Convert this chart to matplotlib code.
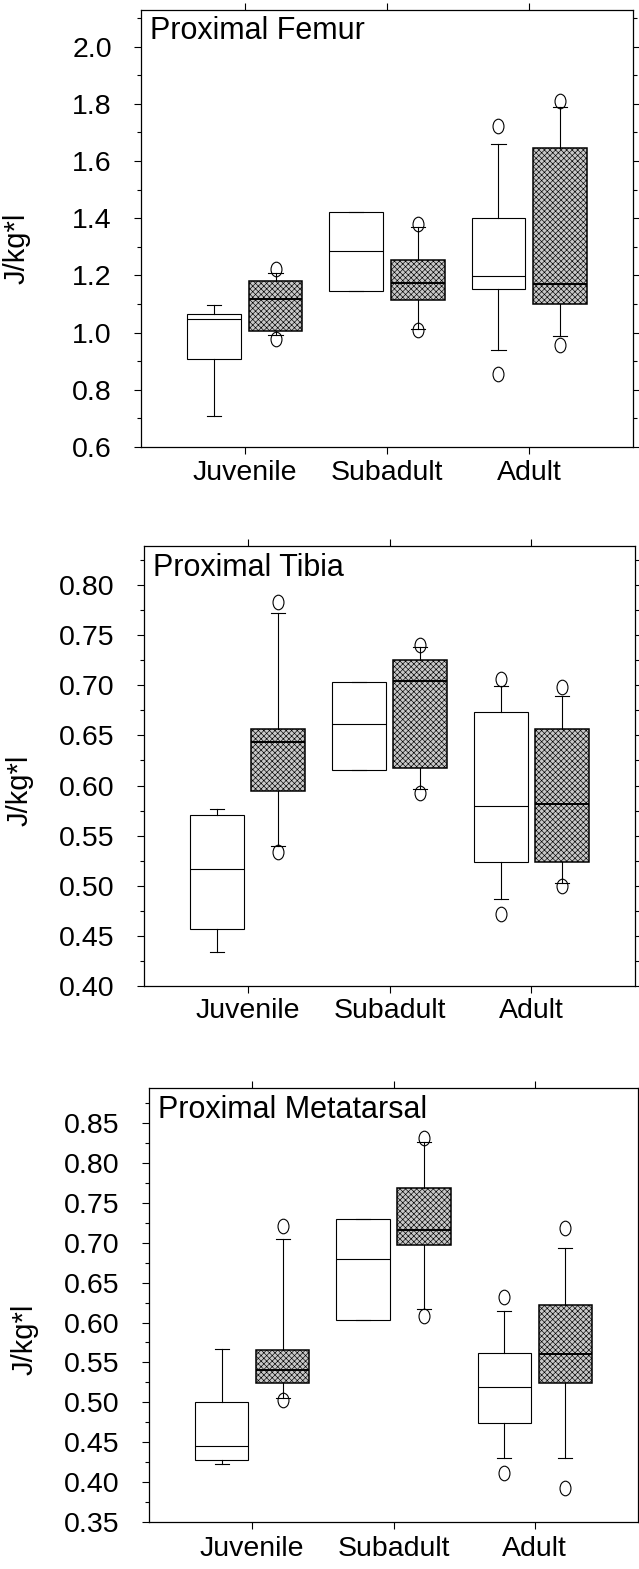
import numpy as np
import matplotlib
matplotlib.use("Agg")
import matplotlib.pyplot as plt
from matplotlib.path import Path
import matplotlib.transforms as mtransforms
from matplotlib.ticker import MultipleLocator, FormatStrFormatter

plt.rcParams['font.family'] = ['Liberation Sans', 'DejaVu Sans']
plt.rcParams['hatch.linewidth'] = 0.45

groups = ["Juvenile", "Subadult", "Adult"]

# Proximal Femur
femur_w_lo = [0.708, 1.145, 0.938]
femur_w_q1 = [0.909, 1.145, 1.151]
femur_w_med = [1.046, 1.287, 1.197]
femur_w_q3 = [1.066, 1.421, 1.401]
femur_w_hi = [1.095, 1.421, 1.658]
femur_w_out = [[], [], [1.724, 0.856]]
femur_g_lo = [0.990, 1.011, 0.988]
femur_g_q1 = [1.005, 1.115, 1.099]
femur_g_med = [1.118, 1.174, 1.171]
femur_g_q3 = [1.182, 1.255, 1.645]
femur_g_hi = [1.209, 1.369, 1.788]
femur_g_out = [[1.223, 0.978], [1.380, 1.008], [1.809, 0.955]]

# Proximal Tibia
tibia_w_lo = [0.434, 0.616, 0.487]
tibia_w_q1 = [0.457, 0.616, 0.524]
tibia_w_med = [0.517, 0.661, 0.580]
tibia_w_q3 = [0.571, 0.703, 0.673]
tibia_w_hi = [0.577, 0.703, 0.699]
tibia_w_out = [[], [], [0.706, 0.472]]
tibia_g_lo = [0.540, 0.597, 0.503]
tibia_g_q1 = [0.595, 0.618, 0.524]
tibia_g_med = [0.643, 0.704, 0.582]
tibia_g_q3 = [0.656, 0.725, 0.656]
tibia_g_hi = [0.772, 0.738, 0.689]
tibia_g_out = [[0.783, 0.534], [0.740, 0.593], [0.698, 0.500]]

# Proximal Metatarsal
meta_w_lo = [0.423, 0.603, 0.430]
meta_w_q1 = [0.428, 0.603, 0.474]
meta_w_med = [0.445, 0.680, 0.519]
meta_w_q3 = [0.500, 0.730, 0.562]
meta_w_hi = [0.567, 0.730, 0.614]
meta_w_out = [[], [], [0.632, 0.411]]
meta_g_lo = [0.506, 0.617, 0.430]
meta_g_q1 = [0.524, 0.697, 0.524]
meta_g_med = [0.541, 0.716, 0.561]
meta_g_q3 = [0.566, 0.769, 0.622]
meta_g_hi = [0.705, 0.826, 0.694]
meta_g_out = [[0.721, 0.503], [0.831, 0.608], [0.718, 0.392]]

W, H = 639, 1569

# outliers are drawn as upright open ellipses
ell = Path.unit_circle().transformed(mtransforms.Affine2D().scale(0.75, 1.0))


def make_stats(lo, q1, med, q3, hi, out):
    return [dict(whislo=lo[i], q1=q1[i], med=med[i], q3=q3[i], whishi=hi[i],
                 fliers=out[i]) for i in range(len(med))]


def draw_panel(box_px, title, white, gray, ylim, major, minor, fmt, xpad, ylab_y):
    l, r, t, b = box_px
    ax = fig.add_axes([l / W, 1 - b / H, (r - l) / W, (b - t) / H])
    cats = np.arange(1, len(groups) + 1)
    common = dict(widths=0.378, patch_artist=True, capwidths=0.1,
                  whiskerprops=dict(color='black', linewidth=0.8),
                  capprops=dict(color='black', linewidth=0.8),
                  flierprops=dict(marker=ell, markersize=10.5, markerfacecolor='none',
                                  markeredgecolor='black', markeredgewidth=0.8))
    ax.bxp(make_stats(*white), positions=cats - 0.216,
           boxprops=dict(facecolor='white', edgecolor='black', linewidth=0.8),
           medianprops=dict(color='black', linewidth=0.8), **common)
    ax.bxp(make_stats(*gray), positions=cats + 0.216,
           boxprops=dict(facecolor='#c8c8c8', edgecolor='black', linewidth=1.1, hatch='xxxxxx'),
           medianprops=dict(color='black', linewidth=1.4), **common)
    ax.set_xlim(0.27, 3.73)
    ax.set_ylim(*ylim)
    ax.set_xticks(cats)
    ax.set_xticklabels(groups, fontsize=20.5)
    ax.yaxis.set_major_locator(MultipleLocator(major))
    ax.yaxis.set_minor_locator(MultipleLocator(minor))
    ax.yaxis.set_major_formatter(FormatStrFormatter(fmt))
    ax.tick_params(axis='both', which='major', direction='out', length=5, width=0.8,
                   top=True, right=True, labelsize=20.5)
    ax.tick_params(axis='y', which='minor', direction='out', length=3, width=0.8, right=True)
    ax.tick_params(axis='y', which='major', pad=16)
    ax.tick_params(axis='x', which='major', pad=xpad)
    for s in ax.spines.values():
        s.set_linewidth(0.9)
    ax.text(0.018, 0.985, title, transform=ax.transAxes, fontsize=22, va='top', ha='left')
    ax.set_ylabel("J/kg*l", fontsize=21)
    ax.yaxis.set_label_coords(-0.225, ylab_y)
    return ax


fig = plt.figure(figsize=(W / 100, H / 100), dpi=100)

draw_panel((141, 633, 9.5, 447), "Proximal Femur",
           (femur_w_lo, femur_w_q1, femur_w_med, femur_w_q3, femur_w_hi, femur_w_out),
           (femur_g_lo, femur_g_q1, femur_g_med, femur_g_q3, femur_g_hi, femur_g_out),
           (0.6, 2.13), 0.2, 0.1, '%.1f', 4, 0.455)
draw_panel((144, 635, 546, 986), "Proximal Tibia",
           (tibia_w_lo, tibia_w_q1, tibia_w_med, tibia_w_q3, tibia_w_hi, tibia_w_out),
           (tibia_g_lo, tibia_g_q1, tibia_g_med, tibia_g_q3, tibia_g_hi, tibia_g_out),
           (0.40, 0.839), 0.05, 0.025, '%.2f', 4, 0.445)
draw_panel((149, 638, 1088, 1522), "Proximal Metatarsal",
           (meta_w_lo, meta_w_q1, meta_w_med, meta_w_q3, meta_w_hi, meta_w_out),
           (meta_g_lo, meta_g_q1, meta_g_med, meta_g_q3, meta_g_hi, meta_g_out),
           (0.35, 0.894), 0.05, 0.025, '%.2f', 5, 0.42)

fig.savefig("out.png", dpi=100)
